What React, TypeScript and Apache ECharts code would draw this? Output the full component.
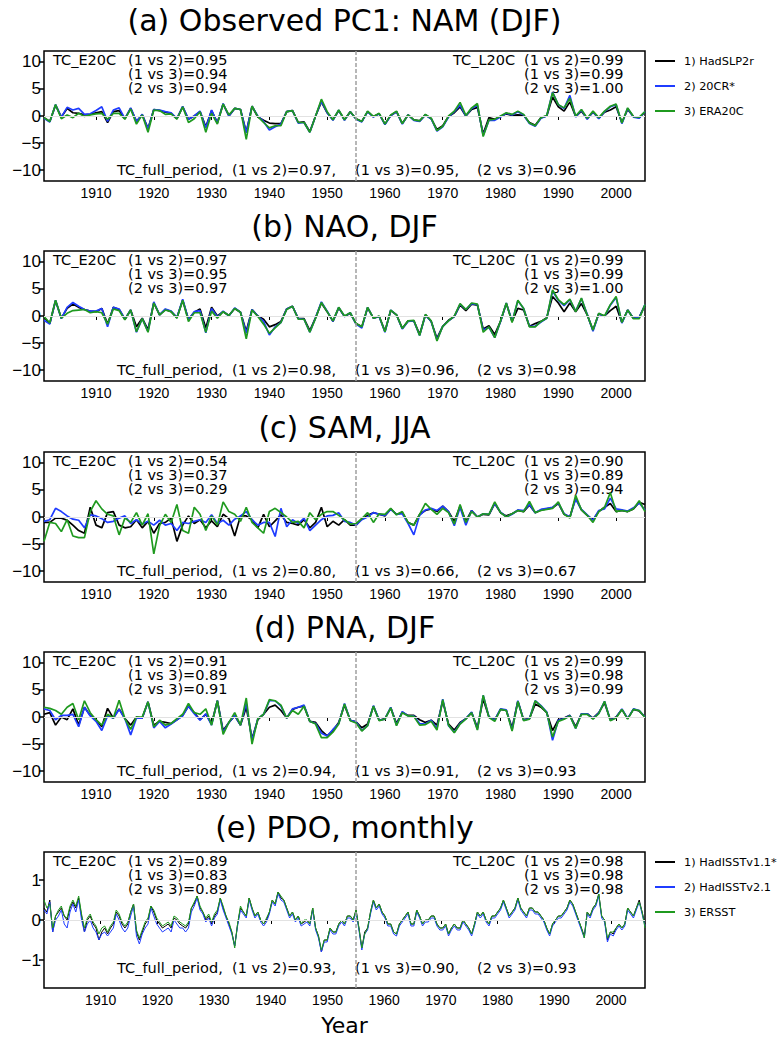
import React, { useEffect, useRef } from "react";
import * as echarts from "echarts";

// ---------- data ----------
const annualStart = 1901;
const annualEnd = 2005;
const pdoStart = 1900;
const pdoEnd = 2006;
const dividerYear = 1955;
const xTickYears = [1910, 1920, 1930, 1940, 1950, 1960, 1970, 1980, 1990, 2000];
const yTicksIndex = [-10, -5, 0, 5, 10];
const yTicksPdo = [-1, 0, 1];

const titles = [
  "(a) Observed PC1: NAM (DJF)",
  "(b) NAO, DJF",
  "(c) SAM, JJA",
  "(d) PNA, DJF",
  "(e) PDO, monthly",
];
const legendAnnual = ["1) HadSLP2r", "2) 20CR*", "3) ERA20C"];
const legendPdo = ["1) HadISSTv1.1*", "2) HadISSTv2.1", "3) ERSST"];
const pairLabels = ["(1 vs 2)", "(1 vs 3)", "(2 vs 3)"];
const tcE20C = [
  ["0.95", "0.94", "0.94"],
  ["0.97", "0.95", "0.97"],
  ["0.54", "0.37", "0.29"],
  ["0.91", "0.89", "0.91"],
  ["0.89", "0.83", "0.89"],
];
const tcL20C = [
  ["0.99", "0.99", "1.00"],
  ["0.99", "0.99", "1.00"],
  ["0.90", "0.89", "0.94"],
  ["0.99", "0.98", "0.99"],
  ["0.98", "0.98", "0.98"],
];
const tcFull = [
  ["0.97", "0.95", "0.96"],
  ["0.98", "0.96", "0.98"],
  ["0.80", "0.66", "0.67"],
  ["0.94", "0.91", "0.93"],
  ["0.93", "0.90", "0.93"],
];

// (a) NAM, 1901-2005
const namHad = [
  -0.3, -1.0, 2.0, -0.2, 1.4, 0.6, 0.5, 0.2, 0.3, 0.6,
  0.8, -1.2, 0.8, 1.0, -0.5, 1.4, -1.0, 0.2, -2.3, 1.2,
  1.0, 0.7, 0.5, -0.5, 1.7, -0.6, 0.0, 0.8, -2.0, 1.0,
  -1.2, 2.2, 0.0, 1.4, 1.2, -3.0, 1.8, -0.2, -0.8, -1.3,
  -1.4, -1.4, 0.8, 1.0, -1.2, -1.1, -2.9, 0.0, 2.6, 0.6,
  -0.7, 1.0, -0.7, 0.8, -0.5, -1.0, 0.8, -0.1, 0.4, -1.5,
  0.1, 0.8, -1.4, 0.2, -0.7, -0.9, 0.2, -0.5, -2.5, -1.8,
  -0.1, 0.6, 1.7, 0.0, 1.2, 1.6, -3.3, -0.3, -0.6, -0.1,
  0.4, 0.1, 0.2, 0.1, -1.2, -1.7, -0.3, 0.0, 3.5, 1.7,
  0.9, 2.6, -0.1, 0.9, -0.5, 0.7, -0.4, 0.7, 1.1, 1.7,
  -1.2, 1.2, -0.1, -0.3, 0.7,
];
const nam20cr = [
  -0.4, -1.1, 2.1, -0.2, 1.6, 1.1, 1.4, 0.3, 0.4, 1.0,
  1.7, -1.0, 1.1, 1.5, -0.5, 1.5, -1.0, 0.3, -2.4, 1.2,
  1.1, 0.8, 0.6, -0.5, 1.8, -0.6, 0.0, 0.9, -2.2, 1.1,
  -1.3, 2.3, 0.0, 1.4, 1.2, -3.1, 1.8, 0.0, -1.0, -2.6,
  -2.0, -1.5, 0.8, 1.0, -1.3, -1.2, -3.0, 0.0, 2.8, 0.6,
  -0.8, 1.1, -0.8, 0.8, -0.6, -1.1, 0.8, -0.2, 0.4, -1.6,
  0.1, 0.8, -1.5, 0.2, -0.8, -1.0, 0.2, -0.5, -2.8, -2.0,
  -0.2, 0.8, 2.0, 0.0, 1.4, 2.0, -3.6, -0.8, -0.8, -0.2,
  0.5, 0.2, 0.8, 0.2, -1.4, -1.9, -0.4, 0.0, 4.4, 2.1,
  1.4, 3.8, -0.2, 1.1, -0.6, 0.8, -0.5, 0.8, 1.7, 2.1,
  -1.4, 1.4, -0.2, -0.4, 0.8,
];
const namEra = [
  -0.3, -1.0, 2.1, -0.5, 0.2, -0.3, 0.5, -0.1, 0.2, 0.4,
  0.5, -0.6, 0.5, 0.5, -0.6, 1.3, -1.5, 0.2, -3.0, 1.1,
  1.0, 0.3, 0.4, -0.6, 1.7, -1.2, -0.5, 0.8, -3.0, 0.5,
  -1.5, 2.2, 0.2, 1.4, 1.2, -4.3, 1.8, -0.1, -1.2, -2.2,
  -1.8, -1.8, 0.8, 1.0, -1.2, -1.2, -3.0, 0.0, 3.1, 0.8,
  -0.7, 1.1, -0.7, 0.8, -0.5, -1.0, 0.9, -0.1, 0.5, -1.5,
  0.2, 0.9, -1.4, 0.2, -0.7, -0.9, 0.3, -0.4, -2.7, -1.9,
  0.0, 0.9, 2.5, 0.1, 1.5, 2.3, -3.8, -0.7, -0.6, 0.0,
  0.6, 0.3, 0.9, 0.3, -1.3, -1.8, -0.3, 0.1, 4.3, 2.1,
  1.5, 3.3, 0.0, 1.2, -0.4, 0.9, -0.3, 0.9, 1.8, 2.2,
  -1.3, 1.5, -0.1, -0.2, 0.8,
];

// (b) NAO, 1901-2005
const naoHad = [
  -0.2, -1.4, 2.8, -0.4, 1.4, 2.2, 1.6, 1.2, 0.9, 0.8,
  1.4, -1.5, 1.6, 1.2, -0.6, 1.1, -2.0, -0.4, -2.5, 2.4,
  0.2, 1.2, 0.8, -0.3, 2.9, -0.6, 0.7, 1.3, -2.2, 1.6,
  0.0, 0.8, 0.1, 1.4, 0.7, -2.8, 1.2, 0.0, -0.6, -2.0,
  -1.6, -1.0, 1.3, 1.8, -0.5, -0.5, -2.7, -0.3, 2.4, 0.8,
  -1.0, 1.5, -0.1, 0.5, -1.4, -2.0, 1.5, -0.4, -0.1, -2.8,
  1.0, 0.2, -2.3, -0.9, -0.9, -3.4, 0.2, -1.0, -4.1, -1.9,
  -0.8, -0.1, 2.0, 1.0, 2.2, 2.0, -2.4, -1.8, -3.4, -1.0,
  2.3, -1.0, 1.4, 1.1, -1.9, -1.4, -1.0, -0.3, 3.6, 2.4,
  0.8, 2.4, 0.8, 2.3, 0.2, -2.6, 0.4, 0.0, 1.0, 1.8,
  -1.2, 1.1, -0.4, -0.2, 2.0,
];
const nao20cr = [
  -0.8, -1.5, 2.9, -0.5, 1.6, 2.5, 1.8, 1.2, 0.9, 0.9,
  1.4, -2.0, 1.6, 1.3, -0.6, 1.1, -3.0, -0.5, -2.9, 2.6,
  0.2, 1.3, 0.9, -0.3, 3.1, -0.7, 0.8, 1.0, -3.1, 1.4,
  -0.2, 0.9, 0.0, 1.5, 0.7, -3.2, 1.2, 0.0, -1.0, -3.5,
  -2.0, -1.2, 1.3, 1.8, -0.5, -0.6, -3.0, -0.3, 2.6, 0.9,
  -1.0, 1.6, -0.1, 0.6, -1.5, -2.2, 1.6, -0.4, -0.1, -3.0,
  1.1, 0.2, -2.4, -1.0, -0.9, -3.6, 0.2, -1.0, -4.4, -1.9,
  -0.9, -0.1, 2.2, 1.2, 2.3, 2.1, -2.6, -2.1, -4.0, -1.0,
  2.4, -1.0, 2.8, 1.4, -1.9, -1.9, -1.1, -0.4, 4.6, 2.9,
  1.9, 3.0, 0.9, 3.2, 0.3, -2.8, 0.4, -0.1, 2.0, 3.4,
  -1.3, 1.1, -0.4, -0.3, 2.1,
];
const naoEra = [
  -0.1, -1.3, 2.9, -0.4, 0.5, 1.0, 1.1, 1.2, 0.6, 0.8,
  0.6, -1.5, 1.3, 1.0, -0.7, 1.1, -2.9, -0.5, -3.0, 2.4,
  0.2, 1.1, 0.8, -0.4, 2.9, -1.0, 0.6, 0.6, -3.0, 0.9,
  -0.4, 0.8, 0.1, 1.4, 0.7, -4.2, 1.1, -0.1, -1.5, -3.2,
  -2.2, -1.2, 1.2, 1.8, -0.6, -0.6, -3.0, -0.4, 2.5, 0.8,
  -0.9, 1.6, 0.0, 0.6, -1.4, -2.0, 1.6, -0.4, 0.0, -2.9,
  1.1, 0.2, -2.3, -0.9, -0.8, -3.6, 0.3, -0.9, -4.6, -1.9,
  -0.9, 0.0, 2.3, 1.2, 2.4, 2.2, -3.0, -2.0, -4.0, -0.9,
  2.4, -1.2, 2.9, 1.4, -2.0, -2.0, -1.0, -0.4, 4.8, 3.0,
  2.1, 3.1, 0.8, 3.3, 0.2, -2.6, 0.5, 0.0, 2.1, 3.6,
  -1.2, 1.1, -0.5, -0.5, 2.1,
];

// (c) SAM, 1901-2005
const samHad = [
  -1.0, -1.0, -0.2, -0.2, -0.6, -1.5, -2.5, -3.0, 1.8, -1.5,
  -2.0, 0.8, 1.0, -1.5, -2.0, -1.8, -0.5, -2.0, -0.8, -3.0,
  -1.2, -1.0, -0.2, -4.5, -1.5, 0.2, -1.2, -0.5, -2.0, -0.7,
  -1.8, 0.5, -0.3, -3.5, 0.2, 0.2, -0.5, -2.0, 0.5, -1.8,
  -0.7, 0.4, -1.0, -1.2, -1.5, -0.5, -2.0, -1.0, 1.8, -1.8,
  -0.8, -1.5, -0.5, -1.5, -1.5, -0.3, 0.3, 0.8, 0.5, 0.2,
  1.5, 0.5, 0.8, -1.0, -1.5, 0.5, 1.2, 1.5, 1.0, 2.0,
  1.0, -0.8, 2.0, -0.8, 1.2, 0.0, 0.5, 0.4, 2.5, 0.8,
  0.2, 0.6, 1.2, 1.0, 2.2, 0.8, 1.3, 1.5, 1.7, 2.5,
  0.5, 0.0, 3.5, 1.3, 0.3, -0.5, 1.0, 1.8, 2.5, 1.0,
  1.2, 1.0, 1.5, 2.7, 2.3,
];
const sam20cr = [
  -0.8, -0.5, 1.6, 1.0, 0.2, -0.4, -0.6, -2.0, 0.4, 0.2,
  -0.3, -1.0, -0.8, -0.2, 0.2, -1.2, -0.5, -1.3, -0.8, -1.5,
  -0.6, -1.5, -1.2, -2.5, -1.0, -1.2, -0.8, -0.5, -1.0, 0.4,
  -1.2, -0.6, -1.5, -0.4, 0.2, 1.0, -0.5, -1.5, -1.0, -1.0,
  -3.6, 1.6, -1.8, -0.5, -1.2, -0.2, -2.5, -1.5, -0.5, 0.2,
  0.3, 0.8, -0.8, -1.0, -1.5, -0.5, 0.0, 0.8, 0.5, 0.3,
  1.4, 0.5, 0.6, -1.2, -3.3, 0.3, 1.3, 1.6, 1.2, 2.0,
  1.0, -1.6, 1.8, -1.5, 1.2, 0.0, 0.6, 0.5, 2.5, 0.9,
  0.0, 0.5, 1.3, 1.2, 2.3, 0.8, 1.4, 1.6, 1.8, 2.6,
  0.6, 0.0, 3.3, 1.4, 0.4, -0.6, 1.2, 1.5, 3.5, 1.5,
  1.3, 1.1, 1.7, 2.6, 1.3,
];
const samEra = [
  -4.5, -1.0, -1.2, -2.7, -0.5, -3.5, -3.8, -3.8, 1.0, 3.0,
  1.5, 0.5, 0.2, -3.3, -0.2, -1.0, 0.8, -1.5, 0.6, -6.8,
  -1.6, 0.5, -1.0, 2.3, -2.5, -3.0, 1.8, 0.5, -2.5, 0.2,
  -1.5, 2.8, 1.0, 0.5, -0.8, 1.8, -1.0, -2.0, -3.0, 1.0,
  1.6, 0.8, 0.0, -1.0, -0.8, -2.0, 0.8, -0.5, 0.5, 1.0,
  1.0, 0.3, -0.5, -1.3, -1.2, -0.3, 0.8, -1.0, 0.6, 0.5,
  1.6, 0.4, 1.0, -1.0, -1.5, 0.5, 2.5, 1.4, 0.5, 1.6,
  0.8, -1.3, 2.3, -1.0, 1.0, 0.0, 0.6, 0.5, 2.8, 0.8,
  0.0, 0.6, 1.2, 1.0, 2.9, 0.8, 1.2, 1.4, 1.6, 2.8,
  0.5, -0.2, 4.0, 1.3, 0.3, -1.0, 1.0, 1.8, 4.5, 1.0,
  1.2, 1.0, 1.5, 3.0, 1.0,
];

// (d) PNA, 1901-2005
const pnaHad = [
  0.5, 0.8, -1.5, 0.0, -0.5, 1.5, -1.5, 1.8, 0.3, -0.5,
  -1.8, 1.6, -0.2, 1.5, -0.3, -1.5, 0.0, -0.2, 2.8, -1.5,
  -0.8, -1.0, -1.2, -0.5, 0.3, 2.0, 0.8, -0.5, 0.5, -1.2,
  3.0, -2.5, -1.0, 0.2, -1.5, 1.8, -4.0, -0.5, 0.5, 1.8,
  2.2, 1.2, -0.2, 1.4, 1.8, 2.0, -0.8, -1.0, -2.5, -3.5,
  -2.5, -1.0, 2.2, -0.6, -0.9, -2.0, -1.3, 2.0, -0.6, -0.3,
  1.7, -1.2, 0.9, 0.3, 0.3, -0.5, -1.0, -0.6, -1.5, 2.9,
  -1.3, -2.4, -1.0, -0.3, 0.8, -2.0, 3.3, 0.0, -0.5, 1.4,
  1.2, -2.0, 2.9, -0.5, -0.3, 2.4, 1.8, 0.8, -2.5, -0.5,
  -0.2, 0.3, -1.8, 0.6, 0.6, -0.2, 0.8, 2.6, -0.5, 0.0,
  1.4, -0.3, 1.4, 1.1, 0.0,
];
const pna20cr = [
  1.5, 1.2, -0.5, 0.3, 0.3, 0.5, -1.8, 1.8, 0.2, -0.8,
  -2.5, 0.2, -0.2, 1.4, -0.3, -3.3, -0.2, -0.2, 2.8, -2.0,
  -0.8, -2.0, -1.3, -0.5, 0.2, 2.0, 0.6, -0.6, 0.6, -1.5,
  3.0, -2.8, -1.0, 0.3, -1.5, 2.5, -4.3, -0.3, 0.5, 3.0,
  3.0, 2.0, -0.2, 1.5, 1.8, 2.2, -0.8, -1.2, -3.0, -3.5,
  -2.3, -1.2, 2.5, -0.6, -0.9, -2.5, -1.6, 2.1, -0.6, -0.4,
  1.8, -1.5, 1.0, 0.2, 0.2, -1.2, -1.3, -0.6, -2.1, 3.3,
  -1.6, -2.8, -1.2, -0.3, 0.9, -2.3, 4.0, 0.0, -0.6, 1.5,
  1.3, -2.4, 3.0, -0.6, -0.3, 3.0, 2.1, 0.9, -4.3, -0.6,
  -0.3, 0.3, -2.1, 0.6, 0.6, -0.3, 0.7, 2.9, -0.6, -0.1,
  1.5, -0.3, 1.5, 1.2, 0.0,
];
const pnaEra = [
  1.8, 1.6, 1.2, 0.5, 1.8, 2.5, -0.5, 3.0, 0.8, -0.5,
  -1.5, 0.5, -0.2, 3.1, -0.3, -2.3, 0.0, 0.0, 2.8, -1.8,
  -0.6, -1.5, -1.2, -0.3, 0.5, 2.5, 0.8, 0.5, 1.5, -1.5,
  3.0, -3.2, -1.0, 0.8, -1.5, 3.5, -5.0, -0.3, 0.5, 3.2,
  3.0, 2.2, -0.2, 1.2, 0.5, 2.0, -0.8, -1.3, -3.8, -3.8,
  -2.8, -1.3, 2.4, -0.7, -1.1, -2.6, -1.6, 2.0, -0.7, -0.4,
  1.7, -1.6, 0.8, 0.2, 0.1, -1.5, -1.4, -0.8, -2.4, 3.2,
  -1.5, -2.9, -1.3, -0.4, 0.8, -2.4, 4.0, -0.1, -0.8, 1.4,
  1.2, -2.6, 2.9, -0.7, -0.4, 3.0, 2.0, 0.8, -3.7, -0.8,
  -0.4, 0.2, -2.1, 0.5, 0.5, -0.4, 0.6, 2.9, -0.7, -0.2,
  1.4, -0.4, 1.4, 1.2, -0.1,
];

// (e) PDO, read at roughly half-year spacing across the record
const pdoHadV1 = [
  0.3, 0.2, 0.5, -0.3, 0.1, 0.2, 0.3, 0.1, 0.0, 0.3,
  0.45, 0.3, 0.55, 0.1, -0.3, 0.0, 0.1, -0.1, -0.2, -0.5,
  -0.3, -0.2, -0.35, -0.2, -0.1, 0.2, 0.1, -0.1, -0.2, -0.1,
  0.2, 0.4, -0.3, -0.5, -0.3, -0.1, 0.0, 0.35, 0.2, 0.0,
  -0.1, -0.2, -0.15, -0.1, -0.2, 0.05, 0.0, -0.1, -0.15, -0.2,
  -0.1, 0.3, 0.4, 0.6, 0.3, 0.2, 0.0, 0.1, -0.1, 0.1,
  0.2, 0.55, 0.3, 0.1, -0.1, -0.3, -0.65, -0.1, 0.3, 0.2,
  0.1, 0.55, 0.3, 0.1, 0.2, 0.0, -0.1, 0.0, 0.2, 0.5,
  0.4, 0.7, 0.55, 0.5, 0.3, 0.1, 0.2, 0.0, 0.1, -0.1,
  -0.05, 0.0, -0.1, 0.3, -0.2, -0.4, -0.8, -0.5, -0.5, -0.2,
  -0.3, -0.3, -0.1, 0.0, -0.1, 0.1, 0.1, 0.0, 0.25, -0.2,
  -0.7, -0.3, -0.2, 0.2, 0.5, 0.3, 0.4, 0.2, 0.1, -0.1,
  -0.1, -0.3, -0.35, -0.1, 0.0, 0.1, 0.2, -0.1, -0.1, 0.25,
  0.1, -0.1, 0.0, 0.0, 0.1, 0.1, -0.1, -0.2, -0.2, -0.1,
  -0.35, -0.2, -0.1, -0.2, -0.2, 0.0, -0.1, -0.2, -0.35, -0.1,
  0.2, 0.1, 0.2, 0.0, -0.1, 0.1, 0.1, 0.2, 0.3, 0.5,
  0.3, 0.1, 0.2, 0.3, 0.55, 0.3, 0.2, 0.1, 0.3, 0.3,
  0.2, 0.2, 0.1, 0.0, -0.2, -0.35, -0.1, 0.0, 0.1, 0.1,
  0.2, 0.3, 0.5, 0.4, 0.2, 0.0, -0.2, -0.4, 0.2, 0.1,
  0.3, 0.4, 0.65, 0.1, 0.0, -0.5, -0.3, -0.35, -0.2, -0.1,
  -0.2, -0.1, 0.3, 0.2, 0.1, 0.3, 0.5, 0.2, -0.1,
];
const pdoHadV2 = [
  0.25, 0.15, 0.45, -0.3, 0.0, 0.1, 0.25, -0.1, -0.2, 0.2,
  0.4, 0.2, 0.5, 0.0, -0.3, -0.1, 0.0, -0.2, -0.3, -0.5,
  -0.35, -0.3, -0.4, -0.3, -0.2, 0.15, 0.0, -0.2, -0.3, -0.2,
  0.1, 0.35, -0.4, -0.6, -0.35, -0.2, -0.1, 0.3, 0.1, -0.1,
  -0.2, -0.3, -0.25, -0.2, -0.3, 0.0, -0.1, -0.2, -0.2, -0.3,
  -0.2, 0.2, 0.35, 0.55, 0.25, 0.15, -0.05, 0.05, -0.15, 0.05,
  0.15, 0.5, 0.25, 0.05, -0.15, -0.35, -0.65, -0.15, 0.25, 0.15,
  0.05, 0.5, 0.25, 0.05, 0.15, -0.05, -0.15, -0.05, 0.15, 0.45,
  0.35, 0.65, 0.5, 0.45, 0.25, 0.05, 0.15, -0.05, 0.05, -0.15,
  -0.1, -0.05, -0.15, 0.25, -0.25, -0.45, -0.8, -0.55, -0.55, -0.25,
  -0.35, -0.35, -0.15, -0.05, -0.15, 0.05, 0.05, -0.05, 0.2, -0.25,
  -0.75, -0.35, -0.25, 0.15, 0.45, 0.25, 0.35, 0.15, 0.05, -0.15,
  -0.15, -0.35, -0.4, -0.15, -0.05, 0.05, 0.15, -0.15, -0.15, 0.2,
  0.05, -0.15, -0.05, -0.05, 0.05, 0.05, -0.15, -0.25, -0.25, -0.15,
  -0.4, -0.25, -0.15, -0.25, -0.25, -0.05, -0.15, -0.25, -0.4, -0.15,
  0.15, 0.05, 0.15, -0.05, -0.15, 0.05, 0.05, 0.15, 0.25, 0.45,
  0.25, 0.05, 0.15, 0.25, 0.5, 0.25, 0.15, 0.05, 0.25, 0.25,
  0.15, 0.15, 0.05, -0.05, -0.25, -0.4, -0.15, -0.05, 0.05, 0.05,
  0.15, 0.25, 0.45, 0.35, 0.15, -0.05, -0.25, -0.45, 0.15, 0.05,
  0.25, 0.35, 0.6, 0.05, -0.05, -0.55, -0.35, -0.4, -0.25, -0.15,
  -0.25, -0.15, 0.25, 0.15, 0.05, 0.25, 0.45, 0.15, -0.15,
];
const pdoErsst = [
  0.5, 0.3, 0.4, -0.2, 0.1, 0.25, 0.35, 0.1, 0.05, 0.35,
  0.5, 0.35, 0.6, 0.15, -0.2, 0.05, 0.15, -0.05, -0.15, -0.35,
  -0.2, -0.15, -0.3, -0.15, -0.05, 0.25, 0.15, -0.05, -0.15, -0.05,
  0.2, 0.4, -0.25, -0.45, -0.25, -0.05, 0.05, 0.35, 0.25, 0.05,
  -0.05, -0.15, -0.1, -0.05, -0.15, 0.1, 0.05, -0.05, -0.1, -0.15,
  -0.05, 0.3, 0.45, 0.6, 0.35, 0.2, 0.05, 0.15, -0.05, 0.15,
  0.25, 0.55, 0.35, 0.1, -0.05, -0.3, -0.7, -0.1, 0.35, 0.2,
  0.1, 0.55, 0.3, 0.1, 0.2, 0.0, -0.1, 0.05, 0.2, 0.5,
  0.4, 0.7, 0.6, 0.5, 0.3, 0.1, 0.2, 0.0, 0.1, -0.1,
  0.0, 0.0, -0.1, 0.3, -0.2, -0.4, -0.75, -0.5, -0.5, -0.2,
  -0.3, -0.3, -0.1, 0.0, -0.1, 0.1, 0.1, 0.0, 0.25, -0.2,
  -0.7, -0.35, -0.2, 0.2, 0.5, 0.3, 0.4, 0.2, 0.1, -0.1,
  -0.1, -0.3, -0.35, -0.1, 0.0, 0.1, 0.2, -0.1, -0.1, 0.25,
  0.1, -0.1, 0.0, 0.0, 0.1, 0.1, -0.1, -0.2, -0.2, -0.1,
  -0.35, -0.2, -0.1, -0.2, -0.2, 0.0, -0.1, -0.2, -0.35, -0.1,
  0.2, 0.1, 0.2, 0.0, -0.1, 0.1, 0.1, 0.2, 0.3, 0.5,
  0.3, 0.1, 0.2, 0.3, 0.55, 0.3, 0.2, 0.1, 0.3, 0.3,
  0.2, 0.2, 0.1, 0.0, -0.2, -0.35, -0.1, 0.0, 0.1, 0.1,
  0.2, 0.3, 0.5, 0.4, 0.2, 0.0, -0.2, -0.45, 0.2, 0.1,
  0.3, 0.4, 0.65, 0.1, 0.0, -0.45, -0.3, -0.3, -0.2, -0.1,
  -0.2, -0.1, 0.3, 0.2, 0.1, 0.3, 0.45, 0.2, -0.2,
];

// ---------- styling ----------
const COLORS = ["#000000", "#1f3cff", "#1f9a1f"];
const GRID_LEFT = 44;
const GRID_WIDTH = 601;
const panelTops = [51, 251, 452, 652, 852];
const panelHeights = [130, 130, 130, 130, 136];
const titleY = [20, 226, 427, 627, 827];
const FONT_TEXT = "DejaVu Sans";
const FONT_AXIS = "Liberation Sans";

function annualPairs(values: number[]) {
  return values.map((v, k) => [annualStart + k, v]);
}
function pdoPairs(values: number[]) {
  const step = (pdoEnd - pdoStart) / (values.length - 1);
  return values.map((v, k) => [pdoStart + k * step, v]);
}

function buildOption() {
  const panelData = [
    [namHad, nam20cr, namEra],
    [naoHad, nao20cr, naoEra],
    [samHad, sam20cr, samEra],
    [pnaHad, pna20cr, pnaEra],
    [pdoHadV1, pdoHadV2, pdoErsst],
  ];
  const grids: any[] = [];
  const xAxes: any[] = [];
  const yAxes: any[] = [];
  const series: any[] = [];
  const graphics: any[] = [];

  panelData.forEach((sets, p) => {
    const isPdo = p === 4;
    const top = panelTops[p];
    const h = panelHeights[p];
    grids.push({
      left: GRID_LEFT,
      top,
      width: GRID_WIDTH,
      height: h,
      show: true,
      borderColor: "#000",
      borderWidth: 1.5,
      backgroundColor: "transparent",
    });
    xAxes.push({
      type: "value",
      gridIndex: p,
      min: isPdo ? pdoStart : annualStart,
      max: isPdo ? pdoEnd : annualEnd,
      axisLine: { show: false },
      splitLine: { show: false },
      axisTick: {
        show: true,
        customValues: xTickYears,
        length: 4,
        lineStyle: { color: "#000", width: 1 },
      },
      axisLabel: {
        customValues: xTickYears,
        color: "#000",
        fontSize: 14,
        fontFamily: FONT_AXIS,
        margin: 5,
        formatter: (v: number) => String(Math.round(v)),
      },
    });
    const yt = isPdo ? yTicksPdo : yTicksIndex;
    yAxes.push({
      type: "value",
      gridIndex: p,
      min: isPdo ? -1.7 : -12,
      max: isPdo ? 1.7 : 12,
      axisLine: { show: false },
      splitLine: { show: false },
      axisTick: {
        show: true,
        customValues: yt,
        length: 5,
        lineStyle: { color: "#000", width: 1.5 },
      },
      axisLabel: {
        customValues: yt,
        color: "#000",
        fontSize: 17,
        fontFamily: FONT_AXIS,
        margin: 3,
        formatter: (v: number) => String(v).replace("-", "\u2212"),
      },
    });
    series.push({
      type: "line",
      xAxisIndex: p,
      yAxisIndex: p,
      data: [],
      silent: true,
      markLine: {
        silent: true,
        symbol: ["none", "none"],
        label: { show: false },
        data: [
          { yAxis: 0, lineStyle: { color: "#e2e2e2", width: 1.2, type: "solid" } },
          { xAxis: dividerYear, lineStyle: { color: "#a0a0a0", width: 1.5, type: [4, 2] } },
        ],
      },
    });
    const names = isPdo ? legendPdo : legendAnnual;
    sets.forEach((vals, s) => {
      series.push({
        type: "line",
        name: names[s],
        xAxisIndex: p,
        yAxisIndex: p,
        data: isPdo ? pdoPairs(vals) : annualPairs(vals),
        showSymbol: false,
        symbol: "none",
        lineStyle: { color: COLORS[s], width: isPdo ? 1.0 : 1.7 },
        itemStyle: { color: COLORS[s] },
      });
    });

    // title
    graphics.push({
      type: "text",
      x: GRID_LEFT + GRID_WIDTH / 2,
      y: titleY[p],
      style: {
        text: titles[p],
        fill: "#000",
        fontSize: 30,
        fontFamily: FONT_TEXT,
        textAlign: "center",
        textVerticalAlign: "middle",
      },
    });
    // correlation texts
    const txt = (text: string, x: number, y: number) => ({
      type: "text",
      x,
      y,
      style: {
        text,
        fill: "#000",
        fontSize: 14.5,
        fontFamily: FONT_TEXT,
        textAlign: "left",
        textVerticalAlign: "middle",
      },
    });
    graphics.push(txt("TC_E20C", 53, top + 9));
    graphics.push(txt("TC_L20C", 453, top + 9));
    for (let k = 0; k < 3; k++) {
      graphics.push(txt(`${pairLabels[k]}=${tcE20C[p][k]}`, 128, top + 9 + 14 * k));
      graphics.push(txt(`${pairLabels[k]}=${tcL20C[p][k]}`, 524, top + 9 + 14 * k));
    }
    const by = isPdo ? top + h - 20 : top + h - 11;
    graphics.push(txt("TC_full_period,", 117, by));
    const segX = [232, 355, 477];
    for (let k = 0; k < 3; k++) {
      graphics.push(
        txt(`${pairLabels[k]}=${tcFull[p][k]}${k < 2 ? "," : ""}`, segX[k], by)
      );
    }
    // legends (panels a and e)
    if (p === 0 || p === 4) {
      names.forEach((nm, s) => {
        const ly = top + 10 + 25 * s;
        graphics.push({
          type: "line",
          shape: { x1: 655, y1: ly, x2: 675, y2: ly },
          style: { stroke: COLORS[s], lineWidth: 2 },
        });
        graphics.push({
          type: "text",
          x: 684,
          y: ly,
          style: {
            text: nm,
            fill: "#000",
            fontSize: 11.3,
            fontFamily: FONT_TEXT,
            textAlign: "left",
            textVerticalAlign: "middle",
          },
        });
      });
    }
  });

  graphics.push({
    type: "text",
    x: GRID_LEFT + GRID_WIDTH / 2,
    y: 1025,
    style: {
      text: "Year",
      fill: "#000",
      fontSize: 22,
      fontFamily: FONT_TEXT,
      textAlign: "center",
      textVerticalAlign: "middle",
    },
  });

  return {
    animation: false,
    backgroundColor: "#ffffff",
    grid: grids,
    xAxis: xAxes,
    yAxis: yAxes,
    series,
    graphic: { elements: graphics },
  };
}

export default function App() {
  const ref = useRef<HTMLDivElement>(null);
  useEffect(() => {
    if (!ref.current) return;
    const chart = echarts.init(ref.current, undefined, { renderer: "svg" });
    chart.setOption(buildOption() as any);
    return () => chart.dispose();
  }, []);
  return (
    <div
      ref={ref}
      style={{ position: "absolute", left: 0, top: 0, width: 781, height: 1039, background: "#fff" }}
    />
  );
}
